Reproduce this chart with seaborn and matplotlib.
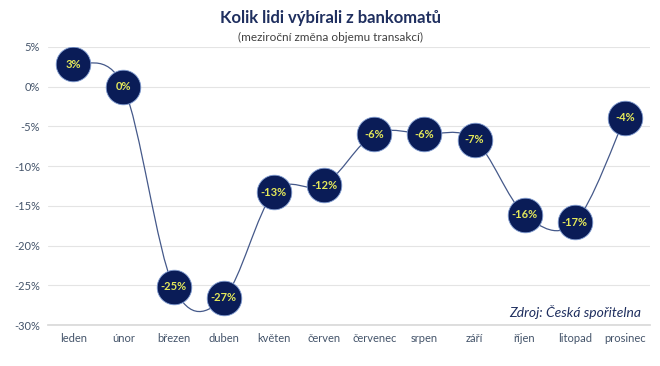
import matplotlib
matplotlib.use("Agg")
import matplotlib.pyplot as plt
from matplotlib.path import Path
from matplotlib.patches import PathPatch
import seaborn as sns
import numpy as np
import pandas as pd

months = ["leden", "únor", "březen", "duben", "květen", "červen",
          "červenec", "srpen", "září", "říjen", "litopad", "prosinec"]
change = [2.8, 0.0, -25.2, -26.6, -13.3, -12.4, -6.0, -6.0, -6.7, -16.1, -17.1, -3.9]
yticks = [5, 0, -5, -10, -15, -20, -25, -30]

navy = "#0a1c57"
text_col = "#44546a"

sns.set_theme(style="white")
plt.rcParams["font.family"] = ["Lato", "DejaVu Sans"]

df = pd.DataFrame({"pos": np.arange(len(months)), "change": change})

fig = plt.figure(figsize=(6.6, 3.66), dpi=100)
ax = fig.add_axes([0.073, 0.112, 0.912, 0.76])

# smooth connecting line (Catmull-Rom as cubic Bezier segments)
pts = df[["pos", "change"]].to_numpy()
ext = np.vstack([pts[0], pts, pts[-1]])
verts = [tuple(pts[0])]
codes = [Path.MOVETO]
for i in range(1, len(ext) - 2):
    p0, p1, p2, p3 = ext[i - 1], ext[i], ext[i + 1], ext[i + 2]
    c1 = p1 + (p2 - p0) / 6
    c2 = p2 - (p3 - p1) / 6
    verts += [tuple(c1), tuple(c2), tuple(p2)]
    codes += [Path.CURVE4] * 3
ax.add_patch(PathPatch(Path(verts, codes), fill=False, edgecolor="#45598a", lw=0.9, zorder=2))

sns.scatterplot(data=df, x="pos", y="change", s=620, color=navy,
                edgecolor="#7f9bd0", linewidth=0.6, ax=ax, zorder=3, legend=False)

for x, v in zip(df["pos"], df["change"]):
    ax.text(x, v, f"{v:.0f}%", ha="center", va="center", color="#e4e85a",
            fontsize=8, fontweight="bold", zorder=4)

ax.set_xlim(-0.5, len(months) - 0.5)
ax.set_ylim(-30, 5)
ax.set_yticks(yticks)
ax.set_yticklabels([f"{t}%" for t in yticks], color=text_col, fontsize=8)
ax.set_xticks(df["pos"])
ax.set_xticklabels(months, color=text_col, fontsize=8)
ax.tick_params(axis="both", length=0, pad=6)
ax.grid(axis="y", color="#e4e4e4", lw=0.8)
ax.set_xlabel("")
ax.set_ylabel("")
sns.despine(ax=ax, left=True, right=True, top=True)
ax.spines["bottom"].set_color("#d9d9d9")

fig.text(0.5, 0.95, "Kolik lidi výbírali z bankomatů", ha="center", va="center",
         fontsize=12, fontweight="bold", color="#1f2f5f")
fig.text(0.5, 0.898, "(meziroční změna objemu transakcí)", ha="center", va="center",
         fontsize=8.5, color="#404040")
ax.text(0.985, 0.045, "Zdroj: Česká spořitelna", transform=ax.transAxes, ha="right",
        va="center", fontsize=10, style="italic", color="#1f2f5f")

fig.savefig("out.png", dpi=100)
